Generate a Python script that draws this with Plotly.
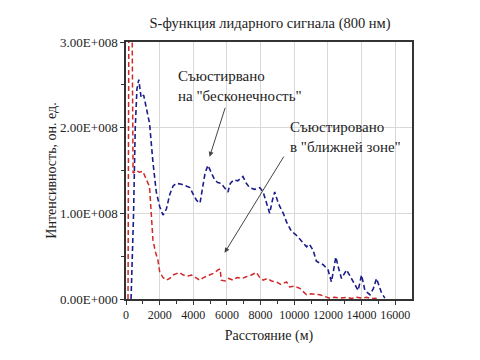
import plotly.graph_objects as go

# --- data ---
blue_x = [300, 450, 550, 650, 760, 900, 1050, 1250, 1400, 1600, 1800, 2000, 2200, 2400, 2600, 2800,
          3000, 3300, 3600, 3800, 4000, 4200, 4400, 4550, 4700, 4870, 5050, 5270, 5450, 5660, 5850,
          6060, 6200, 6400, 6650, 6950, 7150, 7350, 7650, 7950, 8150, 8350, 8540, 8700, 8840, 9000,
          9140, 9350, 9540, 9830, 10100, 10330, 10530, 10730, 10900, 11120, 11320, 11520, 11720,
          12010, 12210, 12350, 12470, 12650, 12810, 13110, 13300, 13500, 13800, 14000, 14200, 14500,
          14700, 14890, 15050, 15190, 15390]
blue_y = [0.0, 1.0e8, 2.0e8, 2.45e8, 2.56e8, 2.35e8, 2.38e8, 2.2e8, 2.05e8, 1.6e8, 1.25e8, 1.08e8,
          0.98e8, 1.05e8, 1.22e8, 1.32e8, 1.35e8, 1.34e8, 1.32e8, 1.3e8, 1.22e8, 1.15e8, 1.12e8,
          1.3e8, 1.47e8, 1.56e8, 1.48e8, 1.39e8, 1.36e8, 1.35e8, 1.30e8, 1.25e8, 1.35e8, 1.39e8,
          1.38e8, 1.43e8, 1.35e8, 1.30e8, 1.28e8, 1.30e8, 1.25e8, 1.12e8, 1.0e8, 1.15e8, 1.25e8,
          1.15e8, 1.08e8, 1.0e8, 0.9e8, 0.79e8, 0.75e8, 0.7e8, 0.66e8, 0.61e8, 0.64e8, 0.57e8,
          0.44e8, 0.42e8, 0.40e8, 0.34e8, 0.2e8, 0.35e8, 0.49e8, 0.35e8, 0.24e8, 0.34e8, 0.27e8,
          0.2e8, 0.1e8, 0.28e8, 0.1e8, 0.05e8, 0.12e8, 0.24e8, 0.15e8, 0.07e8, 0.01e8]

red_x = [120, 170, 360, 420, 600, 800, 1000, 1200, 1400, 1500, 1600, 1750, 1900, 2000, 2200, 2400,
         2600, 2800, 3000, 3180, 3400, 3700, 3900, 4180, 4380, 4600, 4970, 5200, 5470, 5600, 5660,
         5900, 6100, 6360, 6600, 6900, 7150, 7450, 7750, 7950, 8150, 8400, 8650, 8940, 9200, 9540,
         9730, 10000, 10330, 10500, 10730, 11000, 11300, 11520, 11800, 12110, 12400, 12700, 13110,
         13400, 13700, 14000, 14300, 14600, 14900]
red_y = [0.0, 3.3e8, 3.3e8, 1.47e8, 1.5e8, 1.48e8, 1.49e8, 1.4e8, 1.31e8, 1.0e8, 0.69e8, 0.55e8,
         0.45e8, 0.32e8, 0.25e8, 0.22e8, 0.24e8, 0.28e8, 0.3e8, 0.31e8, 0.28e8, 0.27e8, 0.28e8,
         0.25e8, 0.22e8, 0.25e8, 0.28e8, 0.3e8, 0.34e8, 0.35e8, 0.22e8, 0.21e8, 0.24e8, 0.22e8,
         0.25e8, 0.24e8, 0.26e8, 0.28e8, 0.31e8, 0.25e8, 0.22e8, 0.24e8, 0.21e8, 0.2e8, 0.17e8,
         0.2e8, 0.14e8, 0.15e8, 0.125e8, 0.09e8, 0.05e8, 0.06e8, 0.05e8, 0.05e8, 0.03e8, 0.01e8,
         0.02e8, 0.01e8, 0.02e8, 0.005e8, 0.02e8, 0.01e8, 0.02e8, 0.005e8, 0.01e8]

x_ticks = [0, 2000, 4000, 6000, 8000, 10000, 12000, 14000, 16000]
x_tick_labels = [str(v) for v in x_ticks]
y_ticks = [0, 1e8, 2e8, 3e8]
y_tick_labels = ["0.00E+000", "1.00E+008", "2.00E+008", "3.00E+008"]

title_text = "S-функция лидарного сигнала (800 нм)"
x_title = "Расстояние (м)"
y_title = "Интенсивность, он. ед."
label_far = "Съюстирвано<br>на \"бесконечность\""
label_near = "Съюстировано<br>в \"ближней зоне\""

FONT = "Liberation Serif"
TXT = "#222222"
DASH = "5px,3px"

fig = go.Figure()
fig.add_trace(go.Scatter(x=blue_x, y=blue_y, mode="lines",
                         line=dict(color="#1c1c8a", width=1.6, dash=DASH), showlegend=False))
fig.add_trace(go.Scatter(x=red_x, y=red_y, mode="lines",
                         line=dict(color="#d02828", width=1.5, dash=DASH), showlegend=False))

axis_common = dict(
    showline=True, linecolor="#333333", linewidth=1.5, mirror=True, automargin=False,
    ticks="outside", ticklen=4, tickcolor="#333333", tickwidth=1.2,
    showgrid=True, gridcolor="#d8d8d8", gridwidth=1, zeroline=False,
)

fig.update_xaxes(range=[0, 17000], tickmode="array", tickvals=x_ticks, ticktext=x_tick_labels,
                 tickangle=0, tickfont=dict(family=FONT, size=12, color=TXT),
                 title=dict(text=x_title, font=dict(family=FONT, size=14, color=TXT), standoff=9),
                 minor=dict(tickmode="array", tickvals=list(range(1000, 17000, 2000)),
                            ticks="outside", ticklen=3, tickcolor="#333333", showgrid=False),
                 **axis_common)
fig.update_yaxes(range=[0, 3e8], tickmode="array", tickvals=y_ticks, ticktext=y_tick_labels,
                 tickfont=dict(family=FONT, size=13, color=TXT),
                 title=dict(text=y_title, font=dict(family=FONT, size=14, color=TXT), standoff=0),
                 minor=dict(tickmode="array", tickvals=[0.5e8, 1.5e8, 2.5e8],
                            ticks="outside", ticklen=3, tickcolor="#333333", showgrid=False),
                 **axis_common)

# text labels
fig.add_annotation(x=2950, y=2.72e8, xref="x", yref="y", text=label_far, showarrow=False,
                   xanchor="left", yanchor="top", align="left",
                   font=dict(family=FONT, size=15, color=TXT))
fig.add_annotation(x=9600, y=2.12e8, xref="x", yref="y", text=label_near, showarrow=False,
                   xanchor="left", yanchor="top", align="left",
                   font=dict(family=FONT, size=15, color=TXT))
# arrows
fig.add_annotation(x=4970, y=1.66e8, ax=5923, ay=2.25e8, xref="x", yref="y", axref="x", ayref="y",
                   text="", showarrow=True, arrowhead=2, arrowsize=1, arrowwidth=1, arrowcolor="#444444")
fig.add_annotation(x=5860, y=0.54e8, ax=9435, ay=1.68e8, xref="x", yref="y", axref="x", ayref="y",
                   text="", showarrow=True, arrowhead=2, arrowsize=1, arrowwidth=1, arrowcolor="#444444")

# the page adds an 8px body margin, so the figure is laid out 8px up/left of the target
fig.update_layout(
    width=480, height=360,
    margin=dict(l=118, r=76, t=34, b=69),
    paper_bgcolor="white", plot_bgcolor="white",
    title=dict(text=title_text, x=0.546, xanchor="center", y=0.958, yanchor="middle",
               automargin=False, font=dict(family=FONT, size=14.5, color=TXT)),
)

fig.write_html("out.html")
